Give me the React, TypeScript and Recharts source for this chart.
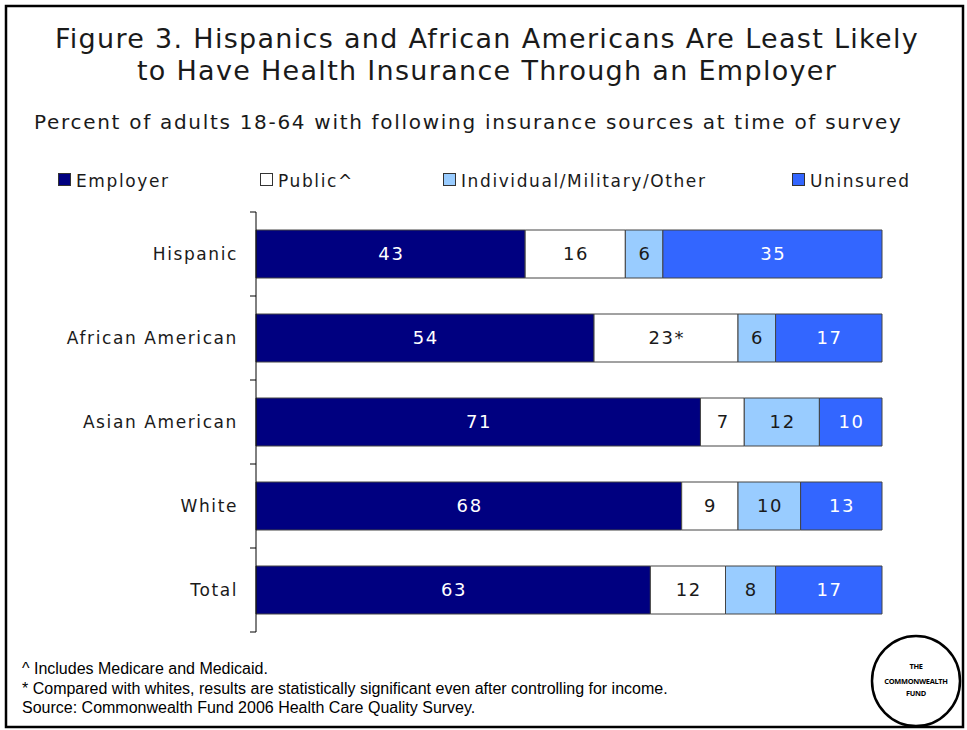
import React from "react";
import { BarChart, Bar, XAxis, YAxis, LabelList } from "recharts";

const categories = ["Hispanic", "African American", "Asian American", "White", "Total"];
const employer = [43, 54, 71, 68, 63];
const publicIns = [16, 23, 7, 9, 12];
const publicLabels = ["16", "23*", "7", "9", "12"];
const individual = [6, 6, 12, 10, 8];
const uninsured = [35, 17, 10, 13, 17];

const seriesNames = ["Employer", "Public^", "Individual/Military/Other", "Uninsured"];
const seriesKeys = ["employer", "publicIns", "individual", "uninsured"];
const seriesColors = ["#000080", "#FFFFFF", "#99CCFF", "#3366FF"];
const labelColors = ["#FFFFFF", "#1a1a1a", "#1a1a1a", "#FFFFFF"];

const titleLines = [
  "Figure 3. Hispanics and African Americans Are Least Likely",
  "to Have Health Insurance Through an Employer",
];
const subtitle = "Percent of adults 18-64 with following insurance sources at time of survey";
const footnotes = [
  "^ Includes Medicare and Medicaid.",
  "* Compared with whites, results are statistically significant even after controlling for income.",
  "Source: Commonwealth Fund 2006 Health Care Quality Survey.",
];
const logoLines = ["THE", "COMMONWEALTH", "FUND"];

const data = categories.map((name, i) => ({
  name,
  employer: employer[i],
  publicIns: publicIns[i],
  publicLabel: publicLabels[i],
  individual: individual[i],
  uninsured: uninsured[i],
}));

const FONT = "'DejaVu Sans', Verdana, sans-serif";
const W = 967;
const H = 730;

const CatTick = (props: any) => {
  const { x, y, payload, index } = props;
  const half = payload && payload.offset ? payload.offset : 42;
  const ax = x + 18;
  const last = index === categories.length - 1;
  return (
    <g>
      <text x={x} y={y} dy="0.36em" textAnchor="end" fontFamily={FONT} fontSize={17} letterSpacing={1.6} fill="#1a1a1a">
        {payload.value}
      </text>
      <line x1={ax - 6} x2={ax} y1={y - half} y2={y - half} stroke="#000" />
      {last && <line x1={ax - 6} x2={ax} y1={y + half} y2={y + half} stroke="#000" />}
    </g>
  );
};

const makeLabel = (color: string) => (props: any) => {
  const { x, y, width, height, value } = props;
  return (
    <text
      x={x + width / 2 + 0.8}
      y={y + height / 2}
      dy="0.36em"
      textAnchor="middle"
      fill={color}
      fontFamily={FONT}
      fontSize={18}
      letterSpacing={1.6}
    >
      {value}
    </text>
  );
};

const legendX = [58, 260, 443, 792];

export default function App() {
  return (
    <div style={{ position: "absolute", left: 0, top: 0, width: W, height: H, background: "#fff" }}>
      <BarChart
        width={W}
        height={H}
        data={data}
        layout="vertical"
        margin={{ top: 212, bottom: 98, left: 56, right: 85 }}
        barSize={48}
      >
        <XAxis type="number" domain={[0, 100]} hide />
        <YAxis
          type="category"
          dataKey="name"
          width={200}
          axisLine={{ stroke: "#000" }}
          tickLine={false}
          tickSize={0}
          tickMargin={18}
          tick={<CatTick />}
          interval={0}
        />
        {seriesKeys.map((k, i) => (
          <Bar
            key={k}
            dataKey={k}
            stackId="a"
            fill={seriesColors[i]}
            stroke="#444"
            strokeWidth={1}
            isAnimationActive={false}
          >
            <LabelList dataKey={k === "publicIns" ? "publicLabel" : k} content={makeLabel(labelColors[i])} />
          </Bar>
        ))}
      </BarChart>
      <svg width={W} height={H} style={{ position: "absolute", left: 0, top: 0, pointerEvents: "none" }}>
        <rect x={6} y={6} width={957} height={721} fill="none" stroke="#000" strokeWidth={2.5} />
        {titleLines.map((t, i) => (
          <text key={i} x={487} y={48 + i * 32} textAnchor="middle" fontFamily={FONT} fontSize={27} letterSpacing={1.3} fill="#1a1a1a">
            {t}
          </text>
        ))}
        <text x={34} y={129} fontFamily={FONT} fontSize={20} letterSpacing={1.7} fill="#1a1a1a">
          {subtitle}
        </text>
        {seriesNames.map((n, i) => (
          <g key={n}>
            <rect x={legendX[i] + 0.5} y={173.5} width={12} height={12} fill={seriesColors[i]} stroke="#333" strokeWidth={1} />
            <text x={legendX[i] + 18} y={187} fontFamily={FONT} fontSize={17} letterSpacing={1.6} fill="#1a1a1a">
              {n}
            </text>
          </g>
        ))}
        {footnotes.map((f, i) => (
          <text key={i} x={22} y={674 + i * 19.5} fontFamily="'Liberation Sans', Arial, sans-serif" fontSize={16} fill="#000">
            {f}
          </text>
        ))}
        <ellipse cx={916} cy={681} rx={44} ry={45} fill="#fff" stroke="#000" strokeWidth={2.5} />
        {logoLines.map((t, i) => (
          <text
            key={i}
            x={916}
            y={[669, 684, 696][i]}
            textAnchor="middle"
            fontFamily="'Open Sans', sans-serif"
            fontWeight="bold"
            fontSize={7.4}
            letterSpacing={-0.3}
            fill="#000"
          >
            {t}
          </text>
        ))}
      </svg>
    </div>
  );
}
